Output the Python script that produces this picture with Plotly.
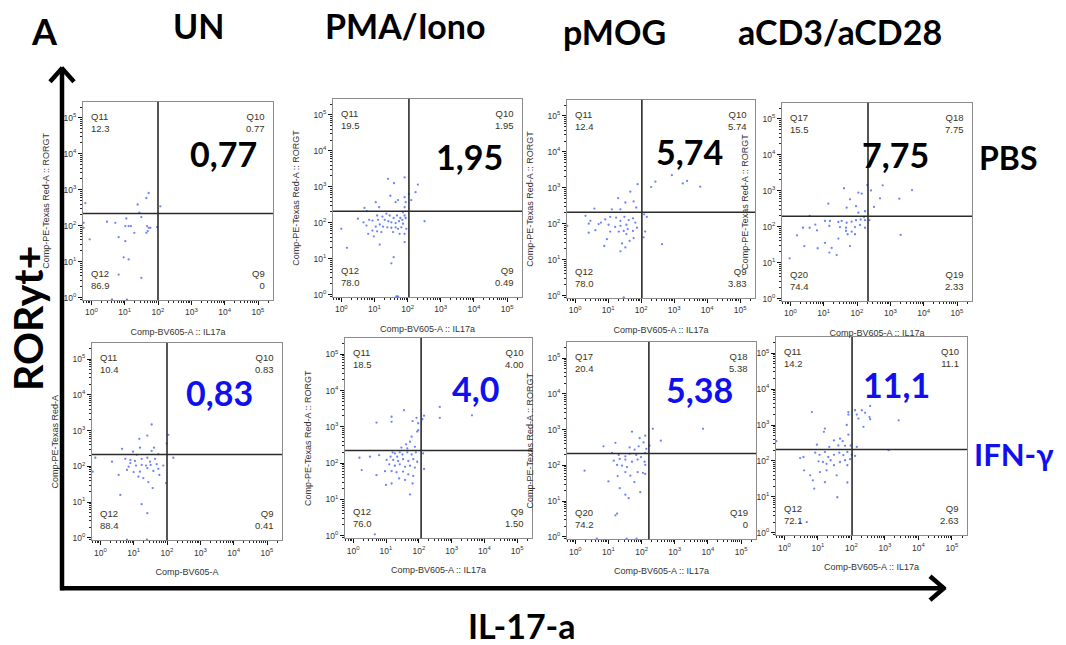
import plotly.graph_objects as go
import numpy as np

# ---------------- data ----------------
conditions = ["UN", "PMA/Iono", "pMOG", "aCD3/aCD28"]
treatments = ["PBS", "IFN-γ"]
headline = ["0,77", "1,95", "5,74", "7,75", "0,83", "4,0", "5,38", "11,1"]

quad_names = [
    ["Q11", "Q10", "Q12", "Q9"], ["Q11", "Q10", "Q12", "Q9"],
    ["Q11", "Q10", "Q12", "Q9"], ["Q17", "Q18", "Q20", "Q19"],
    ["Q11", "Q10", "Q12", "Q9"], ["Q11", "Q10", "Q12", "Q9"],
    ["Q17", "Q18", "Q20", "Q19"], ["Q11", "Q10", "Q12", "Q9"],
]
quad_values = [
    ["12.3", "0.77", "86.9", "0"], ["19.5", "1.95", "78.0", "0.49"],
    ["12.4", "5.74", "78.0", "3.83"], ["15.5", "7.75", "74.4", "2.33"],
    ["10.4", "0.83", "88.4", "0.41"], ["18.5", "4.00", "76.0", "1.50"],
    ["20.4", "5.38", "74.2", "0"], ["14.2", "11.1", "72.1", "2.63"],
]
# quadrant gates (log10 units): IL17a (x) and RORGT (y)
gate_il17a_log = [2.00, 2.04, 2.02, 2.33, 2.00, 2.07, 2.22, 2.02]
gate_rorgt_log = [2.34, 2.32, 2.32, 2.29, 2.33, 2.35, 2.33, 2.32]

x_titles = ["Comp-BV605-A :: IL17a"] * 4 + ["Comp-BV605-A"] + ["Comp-BV605-A :: IL17a"] * 3
y_titles = ["Comp-PE-Texas Red-A :: RORGT"] * 4 + ["Comp-PE-Texas Red-A"] + ["Comp-PE-Texas Red-A :: RORGT"] * 2 + [""]

decade_vals = [1, 10, 100, 1000, 10000, 100000]
decade_text = ["10<sup>0</sup>", "10<sup>1</sup>", "10<sup>2</sup>", "10<sup>3</sup>", "10<sup>4</sup>", "10<sup>5</sup>"]

# events (log10 IL17a, log10 RORGT)
pbs_un = [(-0.18,2.63),(1.72,2.91),(1.65,2.77),(1.39,2.59),(1.44,2.36),(1.50,2.24),(2.07,2.54),(0.47,2.11),
          (0.72,2.08),(1.05,2.20),(1.02,1.99),(1.12,1.99),(1.19,1.99),(1.29,1.80),(1.67,1.99),(1.72,1.94),
          (1.77,1.94),(1.69,1.85),(1.65,1.80),(1.97,1.96),(0.82,1.68),(1.02,1.57),(-0.05,1.62),(0.97,1.12),
          (1.12,1.06),(0.82,0.64),(1.50,0.55),(-0.23,2.08),(-0.23,1.94),(0.62,-0.05),(1.07,-0.06)]
pbs_pma = [(1.91,3.26),(1.41,3.22),(1.59,3.10),(2.31,3.06),(2.24,2.85),(2.11,2.63),(2.04,2.80),(1.48,2.75),
           (1.71,2.63),(1.64,2.57),(1.91,2.71),(1.94,2.57),(1.04,2.57),(1.14,2.43),(0.70,2.41),(0.77,2.32),
           (1.91,2.43),(1.86,2.29),(1.08,2.20),(1.24,2.17),(1.36,2.25),(1.46,2.20),(1.58,2.13),(1.68,2.20),
           (1.78,2.13),(1.91,2.20),(0.84,2.08),(0.94,2.06),(1.11,2.08),(1.31,2.08),(1.42,2.04),(1.51,2.01),
           (1.64,1.99),(1.74,2.04),(1.84,2.08),(1.94,2.13),(1.86,1.97),(0.67,2.01),(0.50,2.11),(0.76,1.92),
           (1.04,1.89),(1.16,1.95),(1.26,1.89),(1.39,1.87),(1.51,1.86),(1.64,1.87),(1.71,1.83),(1.81,1.87),
           (1.96,1.83),(0.94,1.78),(1.08,1.76),(1.21,1.74),(1.56,1.74),(1.76,1.69),(1.91,1.69),(0.00,1.83),
           (0.81,1.69),(0.98,1.62),(1.16,1.39),(1.91,1.46),(2.51,2.04),(0.17,1.30),(1.58,1.04),(1.51,0.87),
           (1.71,-0.05),(1.66,-0.05)]
pbs_pmog = [(2.93,3.35),(3.39,3.19),(3.26,3.12),(3.79,3.03),(2.43,3.17),(2.30,3.02),(1.89,3.10),(1.67,2.89),
            (1.30,2.71),(1.52,2.59),(1.77,2.62),(0.58,2.42),(1.11,2.40),(1.37,2.40),(1.85,2.45),(2.09,2.26),
            (2.17,2.19),(0.31,2.22),(0.46,2.08),(0.78,2.03),(0.91,2.12),(1.06,2.19),(1.24,2.17),(1.37,2.08),
            (1.49,2.19),(1.62,2.10),(1.75,2.15),(1.82,2.03),(1.55,1.97),(1.37,1.94),(1.21,1.91),(1.01,1.97),
            (0.71,1.99),(0.41,2.00),(1.59,1.85),(1.75,1.80),(1.87,1.89),(1.47,1.80),(1.32,1.78),(1.06,1.78),
            (0.61,1.82),(0.41,1.75),(1.55,1.71),(1.77,1.60),(1.65,1.52),(1.42,1.45),(1.52,1.34),(1.37,1.23),
            (0.88,1.38),(0.96,1.57),(2.07,1.62),(2.63,1.43),(2.12,1.78),(-0.24,1.94),(1.47,-0.05)]
pbs_cd3 = [(2.84,3.53),(3.65,3.02),(3.27,2.78),(2.77,3.15),(2.69,2.79),(2.42,3.01),(2.31,3.16),(2.51,2.55),
           (1.61,3.07),(2.04,2.95),(2.14,2.92),(1.79,2.76),(1.97,2.57),(1.14,2.64),(1.69,2.53),(2.04,2.39),
           (2.24,2.43),(2.21,2.27),(0.58,2.30),(1.04,2.16),(1.19,2.16),(1.44,2.13),(1.54,2.16),(1.69,2.11),
           (1.84,2.14),(1.97,2.18),(2.11,2.20),(2.24,2.18),(2.37,2.18),(0.75,2.06),(1.17,2.02),(1.49,1.99),
           (1.67,1.97),(1.94,1.99),(2.09,2.05),(0.38,1.97),(0.58,1.97),(0.80,1.90),(1.67,1.88),(1.84,1.86),
           (1.94,1.79),(1.72,1.79),(0.20,1.76),(1.44,1.67),(1.04,1.55),(0.42,1.46),(1.24,1.41),(1.79,1.46),
           (0.82,1.40),(1.17,1.28),(1.39,1.21),(-0.02,1.12),(3.31,1.77),(2.24,1.97)]
ifn_un = [(1.54,3.17),(1.41,2.86),(1.17,2.77),(2.04,2.88),(1.99,2.64),(0.65,2.49),(1.19,2.52),(1.61,2.52),
          (1.54,2.43),(1.74,2.34),(2.19,2.24),(1.09,2.32),(-0.15,2.24),(0.35,2.13),(0.75,2.21),(0.90,2.18),
          (1.04,2.15),(1.24,2.21),(1.41,2.24),(1.49,2.13),(1.64,2.21),(0.90,2.09),(0.85,1.99),(1.07,2.02),
          (1.24,2.04),(1.37,2.02),(1.51,2.04),(1.69,2.06),(1.89,2.02),(0.80,1.90),(1.00,1.84),(1.19,1.85),
          (1.41,1.95),(1.59,1.87),(1.74,1.93),(1.14,1.71),(1.29,1.67),(1.44,1.56),(1.57,1.39),(1.77,1.76),
          (1.97,1.53),(0.55,1.76),(-0.23,1.85),(0.60,1.20),(1.24,0.94),(1.41,0.69),(0.98,2.41),
          (0.80,-0.05),(1.40,-0.05)]
ifn_pma = [(2.64,3.55),(3.62,3.32),(2.64,3.25),(2.16,3.31),(2.11,3.21),(1.93,3.25),(1.55,3.46),(1.17,3.28),
           (1.17,3.14),(0.71,3.12),(1.81,3.16),(1.98,3.10),(1.95,2.87),(1.98,2.91),(1.78,2.73),(1.73,2.59),
           (1.61,2.52),(1.47,2.43),(1.65,2.41),(1.88,2.45),(1.42,2.30),(1.27,2.27),(1.14,2.18),(1.20,2.30),
           (1.34,2.18),(1.50,2.24),(1.65,2.30),(1.78,2.24),(1.91,2.30),(2.13,2.27),(0.19,2.15),(0.51,2.18),
           (0.79,2.22),(1.02,2.09),(1.22,2.09),(1.37,2.06),(1.52,2.11),(1.68,2.06),(1.83,2.11),(1.95,2.04),
           (1.10,1.97),(1.27,1.93),(1.42,1.97),(1.58,1.90),(1.73,1.93),(1.88,1.88),(2.16,1.84),(0.26,1.81),
           (0.97,1.78),(1.17,1.78),(1.32,1.75),(1.52,1.77),(1.68,1.69),(1.83,1.65),(0.71,1.67),(1.40,1.58),
           (1.58,1.54),(1.81,1.44),(1.00,1.40),(1.17,1.44),(1.73,1.14),(0.66,0.04)]
ifn_pmog = [(3.85,3.02),(2.34,3.02),(2.58,2.69),(2.24,2.55),(1.71,2.94),(2.11,2.83),(1.94,2.76),(2.06,2.64),
            (1.21,2.63),(0.85,2.53),(1.64,2.50),(1.91,2.53),(2.14,2.46),(1.79,2.44),(1.11,2.35),(1.31,2.29),
            (1.51,2.25),(1.64,2.32),(1.84,2.29),(1.98,2.23),(2.11,2.35),(1.16,2.13),(1.34,2.18),(1.51,2.16),
            (1.71,2.10),(1.88,2.16),(2.09,2.10),(1.26,2.01),(1.41,1.99),(1.56,1.95),(2.11,2.01),(0.28,1.85),
            (1.51,1.81),(1.88,1.81),(2.04,1.79),(2.11,1.76),(1.28,1.70),(1.66,1.71),(1.00,1.55),(1.34,1.36),
            (1.78,1.53),(1.96,1.25),(1.51,1.18),(1.61,1.08),(1.21,0.60),(1.26,0.65),(0.65,-0.05),
            (1.55,-0.05),(1.85,-0.05)]
ifn_cd3 = [(3.65,3.66),(2.56,3.53),(2.31,3.41),(2.11,3.41),(2.16,3.29),(1.91,3.36),(1.91,3.29),(2.41,3.34),
           (2.54,3.22),(2.56,3.16),(2.21,3.18),(3.41,3.13),(0.82,3.36),(1.86,3.00),(2.36,2.95),(1.21,2.90),
           (1.18,2.81),(1.91,2.73),(1.66,2.62),(1.74,2.55),(1.48,2.57),(0.97,2.45),(1.34,2.39),(1.61,2.43),
           (1.81,2.42),(1.98,2.43),(2.16,2.39),(3.11,2.30),(0.47,2.08),(0.57,2.11),(0.92,2.23),(1.05,2.17),
           (1.21,2.25),(1.31,2.11),(1.48,2.17),(1.64,2.23),(1.76,2.16),(1.88,2.25),(2.01,2.17),(2.11,2.14),
           (1.02,1.99),(1.15,1.97),(1.26,1.92),(1.38,2.02),(1.48,1.88),(1.66,1.97),(1.81,2.02),(1.88,1.88),
           (1.96,2.05),(0.59,1.74),(1.06,1.69),(1.26,1.74),(1.56,1.60),(0.77,1.60),(0.85,1.46),(1.21,1.41),
           (1.88,1.40),(0.89,1.23),(1.58,0.99),(0.67,0.30),(0.47,0.28),(-0.24,2.55)]

panel_events = [pbs_un, pbs_pma, pbs_pmog, pbs_cd3, ifn_un, ifn_pma, ifn_pmog, ifn_cd3]

# ---------------- layout geometry (screen pixels) ----------------
OFF = 8                      # default page margin around the plot div
W, H = 1066 - OFF, 645 - OFF
boxes = [(83, 273, 102, 301), (333, 522, 99, 298), (567, 755, 100, 299), (782, 972, 103, 302),
         (92, 282, 344, 542), (345, 532, 339, 540), (567, 756, 343, 541), (776, 967, 338, 537)]
headline_pos = [(0.74, 0.74), (0.72, 0.71), (0.65, 0.74), (0.595, 0.74),
                (0.67, 0.75), (0.70, 0.75), (0.70, 0.76), (0.63, 0.76)]
BLUE = "#1010ee"
SMALL = "Liberation Sans"
BIG = "Lato"


def fx(x):
    return (x - OFF) / W


def fy(y):
    return 1 - (y - OFF) / H


fig = go.Figure()
layout = dict(width=W, height=H, margin=dict(l=0, r=0, t=0, b=0),
              paper_bgcolor="white", plot_bgcolor="white", showlegend=False)
shapes, annotations = [], []

for i, (ev, box) in enumerate(zip(panel_events, boxes)):
    k = "" if i == 0 else str(i + 1)
    x0, x1, y0, y1 = box
    xs = 10 ** np.array([p[0] for p in ev])
    ys = 10 ** np.array([p[1] for p in ev])
    fig.add_trace(go.Scatter(x=xs, y=ys, mode="markers", xaxis="x" + k, yaxis="y" + k,
                             marker=dict(size=2.3, color="#4a68f2", opacity=0.8), hoverinfo="skip"))
    common = dict(type="log", showline=True, mirror=True, linecolor="#8c8c8c", linewidth=1,
                  ticks="outside", ticklen=4, tickwidth=1.4, tickcolor="#111",
                  tickvals=decade_vals, ticktext=decade_text, showgrid=False, zeroline=False,
                  tickfont=dict(size=8.5, color="#333", family=SMALL),
                  minor=dict(ticks="outside", ticklen=2, tickcolor="#222", dtick="D1", showgrid=False))
    layout["xaxis" + k] = dict(common, range=[-0.25, 5.45], domain=[fx(x0), fx(x1)], anchor="y" + k,
                               title=dict(text=x_titles[i], font=dict(size=9, color="#333", family=SMALL), standoff=12))
    layout["yaxis" + k] = dict(common, range=[-0.07, 5.45], domain=[fy(y1), fy(y0)], anchor="x" + k,
                               title=dict(text=y_titles[i], font=dict(size=9, color="#333", family=SMALL), standoff=12))
    xr, yr = "x" + k, "y" + k
    gx, gy = 10 ** gate_il17a_log[i], 10 ** gate_rorgt_log[i]
    shapes.append(dict(type="line", xref=xr, yref=yr + " domain", x0=gx, x1=gx, y0=0, y1=1,
                       line=dict(color="#2b2b2b", width=1.6)))
    shapes.append(dict(type="line", xref=xr + " domain", yref=yr, x0=0, x1=1, y0=gy, y1=gy,
                       line=dict(color="#2b2b2b", width=1.6)))
    qn, qv = quad_names[i], quad_values[i]
    corners = [(0.03, 0.965, "left", "top"), (0.97, 0.965, "right", "top"),
               (0.03, 0.035, "left", "bottom"), (0.97, 0.035, "right", "bottom")]
    for (cx, cy, xa, ya), n, v in zip(corners, qn, qv):
        annotations.append(dict(xref=xr + " domain", yref=yr + " domain", x=cx, y=cy, xanchor=xa, yanchor=ya,
                                align=xa, showarrow=False, text=f"{n}<br>{v}",
                                font=dict(size=9.5, color="#3a3320", family=SMALL)))
    hx, hy = headline_pos[i]
    annotations.append(dict(xref=xr + " domain", yref=yr + " domain", x=hx, y=hy, xanchor="center",
                            yanchor="middle", showarrow=False, text=f"<b>{headline[i]}</b>",
                            font=dict(size=34, family=BIG, color="black" if i < 4 else BLUE)))


def label(t, x, y, size, color="black", angle=0):
    annotations.append(dict(xref="paper", yref="paper", x=fx(x), y=fy(y), xanchor="center", yanchor="middle",
                            showarrow=False, textangle=angle, text=f"<b>{t}</b>",
                            font=dict(size=size, family=BIG, color=color)))


# column headers, row labels, panel letter, axis labels
for t, (hx, hy) in zip(conditions, [(198, 26), (405, 26), (614, 32), (840, 32)]):
    label(t, hx, hy, 34)
label(treatments[0], 1008, 158, 32)
label(treatments[1], 1014, 455, 31, BLUE)
label("A", 44, 31, 36)
label("IL-17-a", 522, 627, 34)
label("RORyt+", 27, 320, 41, angle=-90)


# big L-shaped arrows
def seg(xa, ya, xb, yb, w=4.5):
    shapes.append(dict(type="line", xref="paper", yref="paper", x0=fx(xa), y0=fy(ya), x1=fx(xb), y1=fy(yb),
                       line=dict(color="black", width=w), layer="above"))


seg(62, 592, 62, 70)
seg(60, 590, 944, 590)
seg(50, 82, 62.5, 68)
seg(74, 82, 61.5, 68)
seg(930, 578, 945, 591)
seg(930, 602, 945, 589)

layout["shapes"] = shapes
layout["annotations"] = annotations
fig.update_layout(**layout)
fig.write_html("out.html")
